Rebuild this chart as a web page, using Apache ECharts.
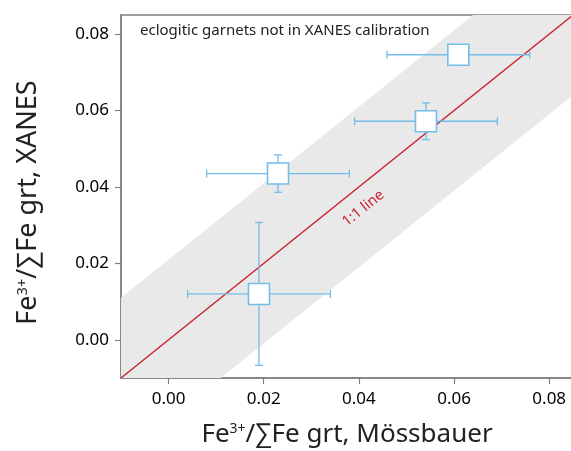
<!DOCTYPE html>
<html>
<head>
<meta charset="utf-8">
<script src="https://cdn.jsdelivr.net/npm/echarts@6/dist/echarts.min.js"></script>
<style>
  html, body { margin: 0; padding: 0; background: #fff; }
  #chart { width: 571px; height: 451px; }
</style>
</head>
<body>
<div id="chart"></div>
<script>
// Fe3+/ΣFe in garnet: Mössbauer (x) vs XANES (y)
const mossbauer = [0.0190, 0.0230, 0.0541, 0.0609];
const xanes     = [0.0120, 0.0435, 0.0572, 0.0746];
const mossErr   = [0.0150, 0.0150, 0.0150, 0.0150];
const xanesErr  = [0.0187, 0.0049, 0.0048, 0.0000];

const axisMin = -0.01;
const axisMax = 0.085;
const tickValues = [0.00, 0.02, 0.04, 0.06, 0.08];
const bandHalfWidth = 0.021;   // shaded envelope around the 1:1 line
const oneToOneLabelAt = [0.0409, 0.0344];

const FONT = '"Noto Sans", "Open Sans", sans-serif';
const BLUE = '#74bde9';
const RED = '#c8202e';

// envelope polygon, clipped to the axis box
const band = [
  [axisMin, axisMin],
  [axisMin, axisMin + bandHalfWidth],
  [axisMax - bandHalfWidth, axisMax],
  [axisMax, axisMax],
  [axisMax, axisMax - bandHalfWidth],
  [axisMin + bandHalfWidth, axisMin]
];

const points = mossbauer.map((x, i) => [x, xanes[i], mossErr[i], xanesErr[i]]);

const chart = echarts.init(document.getElementById('chart'), null, { renderer: 'canvas' });

const axisCommon = {
  type: 'value',
  min: axisMin,
  max: axisMax,
  splitLine: { show: false },
  axisLine: { show: true, onZero: false, lineStyle: { color: '#808080', width: 1.5 } },
  axisTick: { show: true, customValues: tickValues, length: 6, lineStyle: { color: '#808080', width: 1.2 } },
  axisLabel: {
    customValues: tickValues,
    formatter: v => v.toFixed(2),
    color: '#000', fontFamily: FONT, fontSize: 17
  }
};

const titleRich = {
  n: { fontFamily: FONT, fontSize: 26, color: '#222' },
  s: { fontFamily: FONT, fontSize: 14, color: '#222', verticalAlign: 'top', padding: [0, 0, 12, 0] }
};
const yTitleRich = {
  n: { fontFamily: FONT, fontSize: 27, color: '#222' },
  s: { fontFamily: FONT, fontSize: 14.5, color: '#222', verticalAlign: 'top', padding: [0, 0, 12, 0] }
};

chart.setOption({
  animation: false,
  backgroundColor: '#fff',
  grid: {
    left: 121, top: 15, right: -2, bottom: 73,
    outerBoundsMode: 'none',
    containLabel: false,
    show: true, borderColor: '#808080', borderWidth: 1.5, backgroundColor: 'transparent'
  },
  xAxis: Object.assign({}, axisCommon, {
    axisLabel: Object.assign({}, axisCommon.axisLabel, { margin: 13 }),
    name: '{n|Fe}{s|3+}{n|/∑Fe grt, Mössbauer}',
    nameLocation: 'middle',
    nameGap: 44,
    nameTextStyle: { rich: titleRich }
  }),
  yAxis: Object.assign({}, axisCommon, {
    axisLabel: Object.assign({}, axisCommon.axisLabel, { margin: 12 }),
    name: '{n|Fe}{s|3+}{n|/∑Fe grt, XANES}',
    nameLocation: 'middle',
    nameGap: 79,
    nameTextStyle: { rich: yTitleRich, padding: [0, 12, 0, 0] }
  }),
  series: [
    {
      // grey envelope
      type: 'custom',
      z: 1,
      silent: true,
      data: [0],
      renderItem: (params, api) => ({
        type: 'polygon',
        shape: { points: band.map(p => api.coord(p)) },
        style: { fill: '#e9e9e9' }
      })
    },
    {
      // 1:1 line
      type: 'line',
      z: 2,
      silent: true,
      symbol: 'none',
      data: [[axisMin, axisMin], [axisMax, axisMax]],
      lineStyle: { color: RED, width: 1.4 }
    },
    {
      // rotated label along the 1:1 line
      type: 'custom',
      z: 2,
      silent: true,
      data: [oneToOneLabelAt],
      renderItem: (params, api) => {
        const p = api.coord([api.value(0), api.value(1)]);
        const q = api.coord([api.value(0) + 0.01, api.value(1) + 0.01]);
        const angle = Math.atan2(p[1] - q[1], q[0] - p[0]);
        return {
          type: 'text',
          x: p[0], y: p[1],
          rotation: angle,
          style: {
            text: '1:1 line', fill: RED, fontFamily: FONT, fontSize: 14.5,
            align: 'center', verticalAlign: 'middle'
          }
        };
      }
    },
    {
      // error bars with square markers
      type: 'custom',
      z: 3,
      data: points,
      renderItem: (params, api) => {
        const x = api.value(0), y = api.value(1), ex = api.value(2), ey = api.value(3);
        const c = api.coord([x, y]);
        const l = api.coord([x - ex, y]), r = api.coord([x + ex, y]);
        const t = api.coord([x, y + ey]), b = api.coord([x, y - ey]);
        const cap = 4;
        const line = (x1, y1, x2, y2) => ({
          type: 'line', shape: { x1, y1, x2, y2 },
          style: { stroke: BLUE, lineWidth: 1.3 }
        });
        const children = [
          line(l[0], c[1], r[0], c[1]),
          line(l[0], c[1] - cap, l[0], c[1] + cap),
          line(r[0], c[1] - cap, r[0], c[1] + cap)
        ];
        if (ey > 0) {
          children.push(line(c[0], t[1], c[0], b[1]));
          children.push(line(c[0] - cap, t[1], c[0] + cap, t[1]));
          children.push(line(c[0] - cap, b[1], c[0] + cap, b[1]));
        }
        const s = 21;
        children.push({
          type: 'rect',
          shape: { x: c[0] - s / 2, y: c[1] - s / 2, width: s, height: s },
          style: { fill: '#fff', stroke: BLUE, lineWidth: 1.6 }
        });
        return { type: 'group', children };
      }
    }
  ],
  graphic: [{
    type: 'text',
    left: 140, top: 23,
    style: {
      text: 'eclogitic garnets not in XANES calibration',
      fontFamily: FONT, fontSize: 15, fill: '#222'
    }
  }]
});
</script>
</body>
</html>
